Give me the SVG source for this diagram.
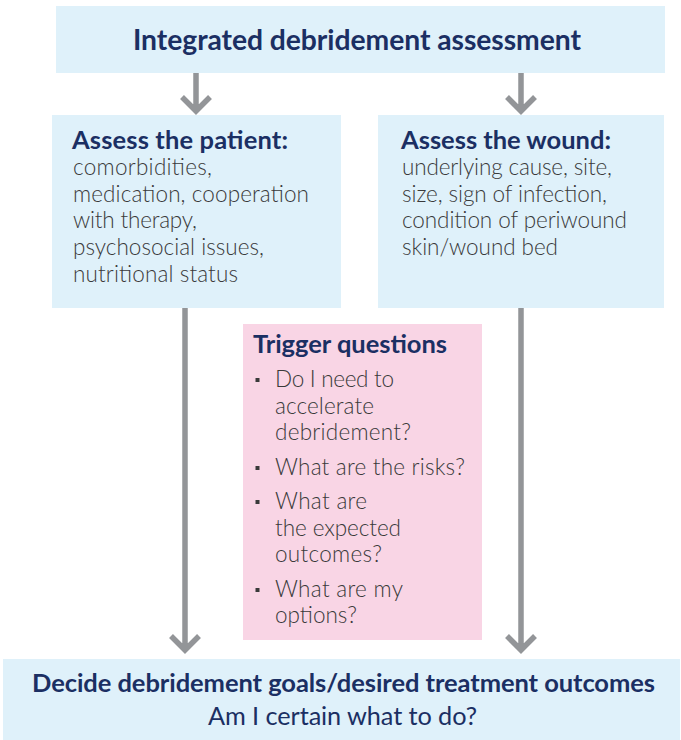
<svg xmlns="http://www.w3.org/2000/svg" width="681" height="740" viewBox="0 0 681 740">
  <style>
    .box { fill: #dff1fa; }
    .pink { fill: #f9d5e5; }
    .title { font-family: Lato, "Open Sans", sans-serif; font-weight: 700; font-size: 28.3px; fill: #1b2f63; }
    .head { font-family: Lato, "Open Sans", sans-serif; font-weight: 700; font-size: 25.5px; fill: #1b2f63; }
    .body { font-family: Lato, "Open Sans", sans-serif; font-weight: 300; font-size: 22.5px; fill: #3a3a3a; }
    .q { font-family: Lato, "Open Sans", sans-serif; font-weight: 300; font-size: 22.5px; fill: #3a3a3a; }
    .dot { fill: #3a3a3a; }
    .plain { font-family: Lato, "Open Sans", sans-serif; font-weight: 400; font-size: 25.3px; fill: #1b2f63; }
    .link { fill: none; stroke: #939598; stroke-width: 5.5; }
  </style>

  <!-- top heading -->
  <g id="assessment">
    <rect class="box" x="56" y="6" width="609" height="67"/>
    <text class="title" x="133" y="50" textLength="448">Integrated debridement assessment</text>
  </g>

  <!-- patient factors -->
  <g id="patient">
    <rect class="box" x="52" y="115" width="289" height="193"/>
    <text class="head" x="72" y="149" textLength="216">Assess the patient:</text>
    <text class="body" x="73" y="175" textLength="139">comorbidities,</text>
    <text class="body" x="73" y="202" textLength="236">medication, cooperation</text>
    <text class="body" x="73" y="228" textLength="124">with therapy,</text>
    <text class="body" x="73" y="255" textLength="191">psychosocial issues,</text>
    <text class="body" x="73" y="282" textLength="165">nutritional status</text>
  </g>

  <!-- wound factors -->
  <g id="wound">
    <rect class="box" x="378" y="115" width="286" height="193"/>
    <text class="head" x="401" y="149" textLength="210">Assess the wound:</text>
    <text class="body" x="402" y="175" textLength="210">underlying cause, site,</text>
    <text class="body" x="402" y="202" textLength="205">size, sign of infection,</text>
    <text class="body" x="402" y="228" textLength="225">condition of periwound</text>
    <text class="body" x="402" y="255" textLength="156">skin/wound bed</text>
  </g>

  <!-- trigger questions -->
  <g id="triggers">
    <rect class="pink" x="243" y="324" width="239" height="316"/>
    <text class="head" x="253" y="353" textLength="194">Trigger questions</text>
    <g class="q">
      <rect class="dot" x="255.5" y="378" width="4" height="4"/>
      <text x="275" y="387" textLength="119">Do I need to</text>
      <text x="275" y="414" textLength="99">accelerate</text>
      <text x="275" y="440" textLength="136">debridement?</text>
      <rect class="dot" x="255.5" y="466" width="4" height="4"/>
      <text x="275" y="475" textLength="190">What are the risks?</text>
      <rect class="dot" x="255.5" y="500" width="4" height="4"/>
      <text x="275" y="509" textLength="92">What are</text>
      <text x="275" y="536" textLength="126">the expected</text>
      <text x="275" y="562" textLength="107">outcomes?</text>
      <rect class="dot" x="255.5" y="588" width="4" height="4"/>
      <text x="275" y="597" textLength="128">What are my</text>
      <text x="275" y="623" textLength="82">options?</text>
    </g>
  </g>

  <!-- decision -->
  <g id="decision">
    <rect class="box" x="3" y="659" width="677" height="81"/>
    <text class="head" x="32" y="692" textLength="623">Decide debridement goals/desired treatment outcomes</text>
    <text class="plain" x="208" y="725" textLength="269">Am I certain what to do?</text>
  </g>

  <!-- connectors -->
  <g id="connectors" class="link">
    <path d="M196 73 V110 M182 97 L196 111 L210 97"/>
    <path d="M521 73 V110 M507 97 L521 111 L535 97"/>
    <path d="M185 308 V649 M171 636 L185 650 L199 636"/>
    <path d="M521 308 V649 M507 636 L521 650 L535 636"/>
  </g>
</svg>
